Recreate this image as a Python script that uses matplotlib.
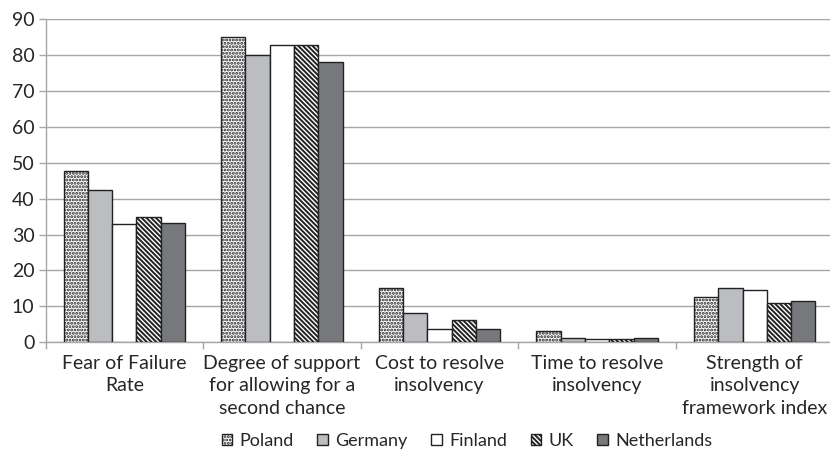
import matplotlib
matplotlib.use('Agg')
import matplotlib.pyplot as plt
import numpy as np

categories = ['Fear of Failure\nRate',
              'Degree of support\nfor allowing for a\nsecond chance',
              'Cost to resolve\ninsolvency',
              'Time to resolve\ninsolvency',
              'Strength of\ninsolvency\nframework index']
countries = ['Poland', 'Germany', 'Finland', 'UK', 'Netherlands']
poland = [47.8, 85.0, 15.0, 3.0, 12.6]
germany = [42.3, 80.0, 8.0, 1.2, 15.0]
finland = [32.9, 83.0, 3.5, 0.8, 14.5]
uk = [34.8, 83.0, 6.1, 0.9, 11.0]
netherlands = [33.3, 78.0, 3.5, 1.1, 11.5]
y_ticks = [0, 10, 20, 30, 40, 50, 60, 70, 80, 90]

series = [poland, germany, finland, uk, netherlands]
faces = ['white', '#bcbdc0', 'white', 'white', '#77787b']
hatches = ['.....', None, None, '\\' * 7, None]

plt.rcParams['font.family'] = ['Lato', 'DejaVu Sans']
plt.rcParams['hatch.linewidth'] = 1.4
plt.rcParams['hatch.color'] = '#1a1a1a'

W, H = 830, 461
fig = plt.figure(figsize=(W / 100, H / 100), dpi=100)
left, right, top, bottom = 45.5, 833.5, 19.5, 342
ax = fig.add_axes([left / W, 1 - bottom / H, (right - left) / W, (bottom - top) / H])

x = np.arange(len(categories))
bw = 0.154
for i, (vals, fc, h) in enumerate(zip(series, faces, hatches)):
    ax.bar(x + (i - 2) * bw, vals, width=bw, color=fc, edgecolor='#222222',
           linewidth=1.0, hatch=h, label=countries[i], zorder=3)

ax.set_xlim(-0.5, 4.5)
ax.set_ylim(0, 90)
ax.set_yticks(y_ticks)
ax.yaxis.grid(True, color='#a6a6a6', linewidth=1.0, zorder=0)
ax.set_axisbelow(True)

# group boundaries get the tick marks, group centres get the labels
ax.set_xticks(np.arange(-0.5, 5.0, 1.0))
ax.set_xticklabels([])
ax.set_xticks(x, minor=True)
ax.set_xticklabels(categories, minor=True, fontsize=14, color='#262626',
                   linespacing=1.42)
ax.tick_params(axis='x', which='major', length=5, color='#a6a6a6', width=1)
ax.tick_params(axis='x', which='minor', length=0, pad=9)
ax.tick_params(axis='y', length=5, color='#a6a6a6', width=1, labelsize=14,
               labelcolor='#262626', pad=3)

for s in ['top', 'right']:
    ax.spines[s].set_visible(False)
for s in ['left', 'bottom']:
    ax.spines[s].set_color('#a6a6a6')
    ax.spines[s].set_linewidth(1.0)

fig.legend(loc='center', bbox_to_anchor=(467 / W, 1 - 441 / H), ncol=5,
           frameon=False, fontsize=13, handlelength=0.6, handleheight=0.6,
           handletextpad=0.4, columnspacing=1.3, labelcolor='#262626')

fig.savefig('out.png', dpi=100)
